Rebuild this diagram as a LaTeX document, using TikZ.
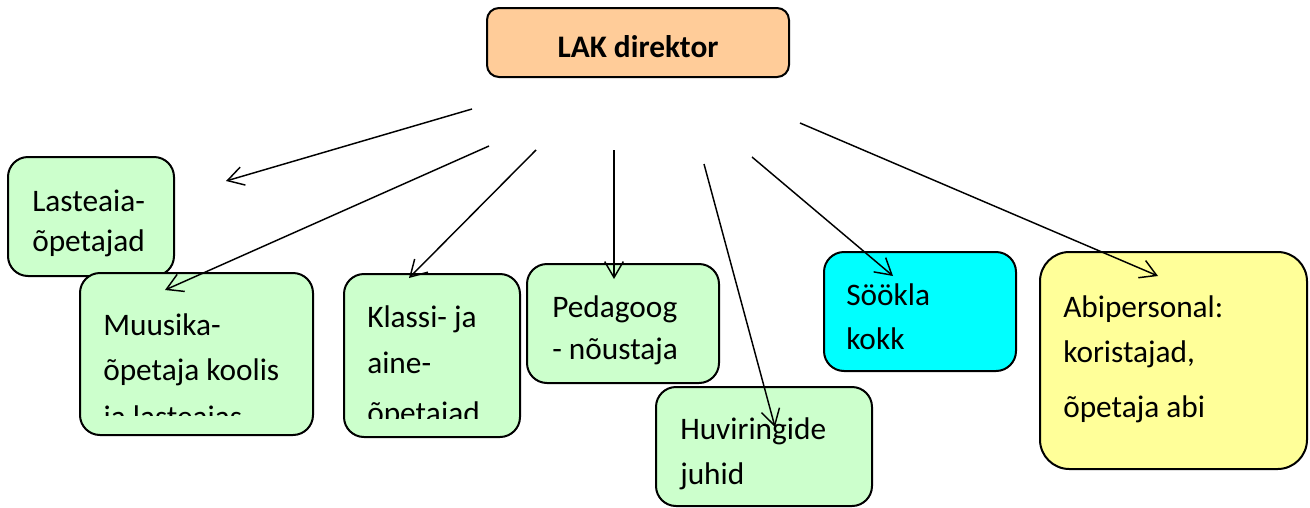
\documentclass[tikz,border=0pt]{standalone}
\usepackage{fontspec}
\setmainfont{Carlito}
\usetikzlibrary{arrows.meta}
\definecolor{boxgreen}{HTML}{CCFFCC}
\definecolor{boxorange}{HTML}{FFCC99}
\definecolor{boxcyan}{HTML}{00FFFF}
\definecolor{boxyellow}{HTML}{FFFF99}

\begin{document}
\begin{tikzpicture}[x=0.75pt,y=-0.75pt,
	box/.style={draw=black, line width=1.5pt, rounded corners=15pt, inner sep=0pt},
	boxtext/.style={anchor=north west, inner sep=0pt, align=left,
		font=\fontsize{23.5pt}{33pt}\selectfont},
	link/.style={-{Straight Barb[length=12pt,width=14pt]}, line width=1.1pt}]
			\useasboundingbox (0,0) rectangle (1310,507);
			% director
			\node[box, fill=boxorange, rounded corners=9pt, minimum width=226.5pt, minimum height=51.75pt] (direktor) at (638,42.5) {};
			\node[anchor=base, inner sep=0pt, font=\fontsize{23.5pt}{33pt}\selectfont\bfseries] (direktortext) at (638,57.5) {LAK direktor};
			% boxes, left to right
			\node[box, fill=boxgreen, minimum width=124.5pt, minimum height=89.25pt] (lasteaia) at (91,216.5) {};
			\node[boxtext] (lasteaiatext) at (32,180.2) {\strut Lasteaia-\\[-3pt]õpetajad};
			\node[box, fill=boxgreen, minimum width=174.75pt, minimum height=121.5pt] (muusika) at (196.5,354) {};
			\begin{scope}
				\clip (80,273) rectangle (313,415);
				\node[boxtext] (muusikatext) at (103,304.2) {\strut Muusika-\\[1pt]õpetaja koolis\\[2.5pt]ja lasteaias};
			\end{scope}
			\node[box, fill=boxgreen, minimum width=132pt, minimum height=122.25pt] (klassi) at (432,355.5) {};
			\begin{scope}
				\clip (344,274) rectangle (520,418);
				\node[boxtext] (klassitext) at (367,296.2) {\strut Klassi- ja\\[1.5pt]aine-\\[4.5pt]õpetajad};
			\end{scope}
			\node[box, fill=boxgreen, minimum width=144pt, minimum height=89.25pt] (pedagoog) at (623,323.5) {};
			\node[boxtext] (pedagoogtext) at (552,286.2) {\strut Pedagoog\\[-1pt]- nõustaja};
			\node[box, fill=boxgreen, minimum width=162pt, minimum height=89.25pt] (huviring) at (764,446.5) {};
			\node[boxtext] (huviringtext) at (680,408.2) {\strut Huviringide\\[1pt]juhid};
			\node[box, fill=boxcyan, minimum width=144pt, minimum height=89.25pt] (sookla) at (920,311.5) {};
			\node[boxtext] (sooklatext) at (846,274.2) {\strut Söökla\\kokk};
			\node[box, fill=boxyellow, rounded corners=22pt, minimum width=200.25pt, minimum height=162.75pt] (abi) at (1173.5,360.5) {};
			\node[boxtext] (abitext) at (1063,286.2) {\strut Abipersonal:\\[1pt]koristajad,\\[8pt]õpetaja abi};
			% arrow ends
			\coordinate (s1) at (472,109);  \coordinate (e1) at (226,181);
			\coordinate (s2) at (489,146);  \coordinate (e2) at (165,290);
			\coordinate (s3) at (536,150);  \coordinate (e3) at (409,278);
			\coordinate (s4) at (614,150);  \coordinate (e4) at (614,279);
			\coordinate (s5) at (704,164);  \coordinate (e5) at (775,427);
			\coordinate (s6) at (752,157);  \coordinate (e6) at (893,276);
			\coordinate (s7) at (800,123);  \coordinate (e7) at (1158,276);
			% arrows
			\foreach \i in {1,...,7}
				\draw[link] (s\i) -- (e\i);
		\end{tikzpicture}
\end{document}
